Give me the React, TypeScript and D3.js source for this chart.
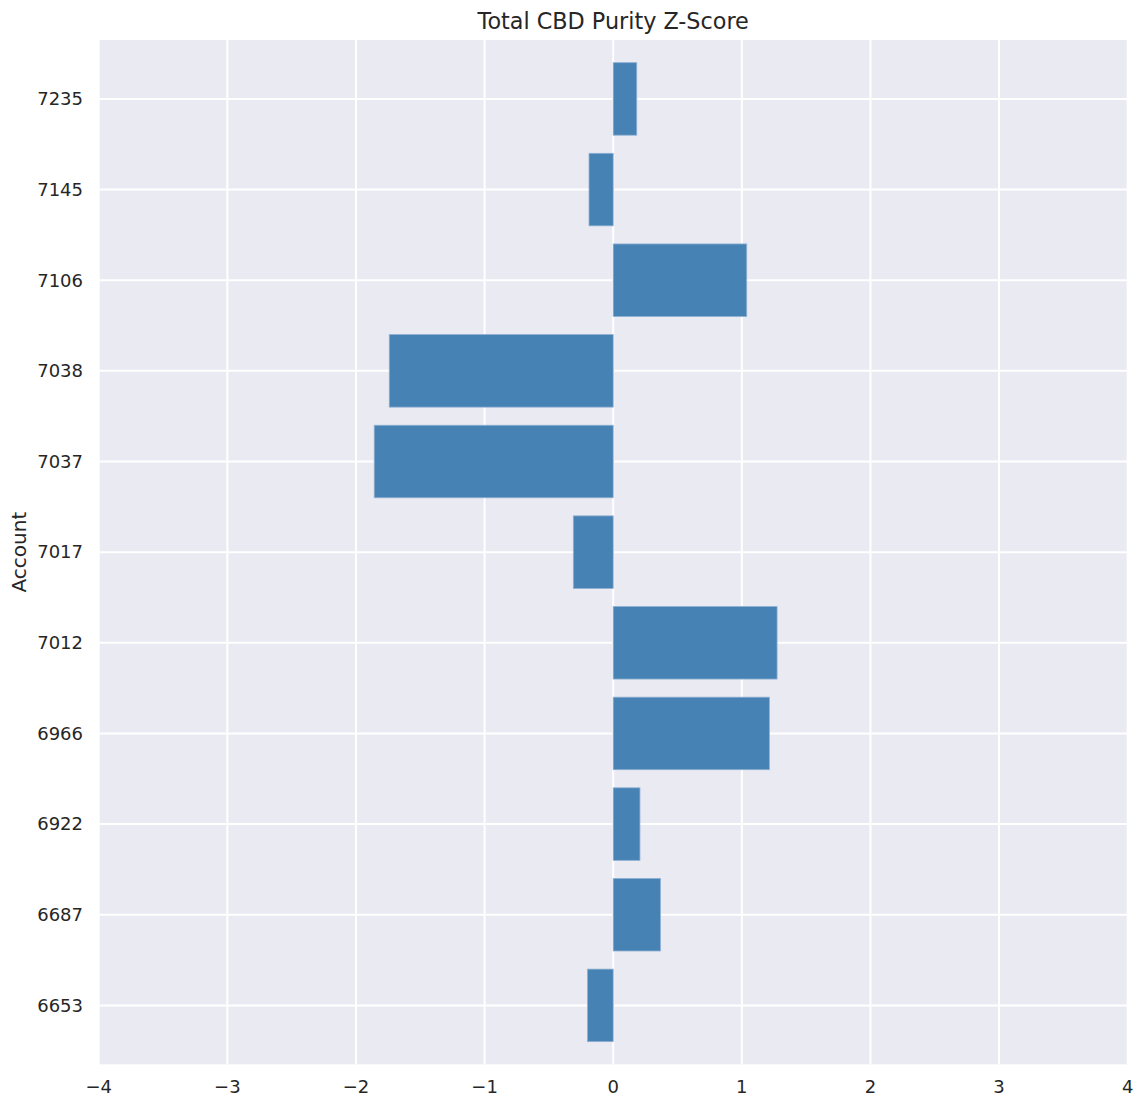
import React from "react";
import * as d3 from "d3";

const accounts = ["6653", "6687", "6922", "6966", "7012", "7017", "7037", "7038", "7106", "7145", "7235"];
const zScores = [-0.2, 0.367, 0.208, 1.214, 1.274, -0.31, -1.858, -1.741, 1.038, -0.188, 0.183];
const xTicks = [-4, -3, -2, -1, 0, 1, 2, 3, 4];
const title = "Total CBD Purity Z-Score";
const yLabel = "Account";

const W = 1139;
const H = 1098;
const left = 98.7;
const right = 1127.7;
const top = 40;
const bottom = 1064.3;

export default function App() {
  const x = d3.scaleLinear().domain([-4, 4]).range([left, right]);
  const idx = accounts.map((_, i) => i);
  const y = d3.scaleLinear().domain([-0.65, accounts.length - 1 + 0.65]).range([bottom, top]);
  const barH = Math.abs(y(0.4) - y(-0.4));
  const font = "DejaVu Sans, sans-serif";
  const textColor = "#262626";
  return (
    <svg width={W} height={H} style={{ position: "absolute", left: 0, top: 0, background: "#fff" }}>
      <rect x={left} y={top} width={right - left} height={bottom - top} fill="#EAEAF2" />
      {xTicks.map((t) => (
        <line key={"gx" + t} x1={x(t)} x2={x(t)} y1={top} y2={bottom} stroke="#fff" strokeWidth={2} />
      ))}
      {idx.map((i) => (
        <line key={"gy" + i} x1={left} x2={right} y1={y(i)} y2={y(i)} stroke="#fff" strokeWidth={2} />
      ))}
      {idx.map((i) => {
        const v = zScores[i];
        const x0 = x(Math.min(0, v));
        const x1 = x(Math.max(0, v));
        return (
          <rect
            key={"b" + i}
            x={x0}
            y={y(i) - barH / 2}
            width={x1 - x0}
            height={barH}
            fill="#4682B4"
            stroke="#8fb0d3"
            strokeWidth={0.8}
          />
        );
      })}
      {xTicks.map((t) => (
        <text
          key={"tx" + t}
          x={x(t)}
          y={1093}
          textAnchor="middle"
          fontFamily={font}
          fontSize={18}
          fill={textColor}
        >
          {t < 0 ? "\u2212" + Math.abs(t) : String(t)}
        </text>
      ))}
      {idx.map((i) => (
        <text
          key={"ty" + i}
          x={83}
          y={y(i)}
          dy="0.35em"
          textAnchor="end"
          fontFamily={font}
          fontSize={18}
          fill={textColor}
        >
          {accounts[i]}
        </text>
      ))}
      <text
        x={(left + right) / 2}
        y={29}
        textAnchor="middle"
        fontFamily={font}
        fontSize={22.3}
        fill={textColor}
      >
        {title}
      </text>
      <text
        transform={`translate(26, ${(top + bottom) / 2}) rotate(-90)`}
        textAnchor="middle"
        fontFamily={font}
        fontSize={20}
        fill={textColor}
      >
        {yLabel}
      </text>
    </svg>
  );
}
